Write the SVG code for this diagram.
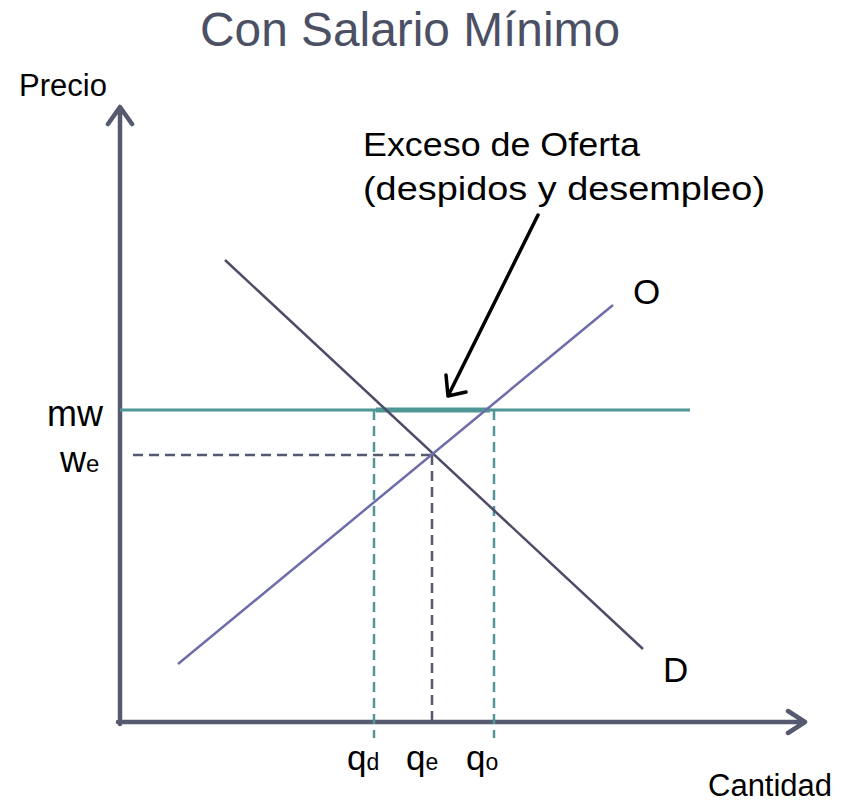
<svg xmlns="http://www.w3.org/2000/svg" width="850" height="802" viewBox="0 0 850 802">
<style>
text{font-family:"Liberation Sans",Arial,sans-serif;fill:#000}
.title{fill:#4B5064;font-size:48px}
.axis{stroke:#555A70;stroke-width:4.5;fill:none;stroke-linecap:round;stroke-linejoin:round}
.teal{stroke:#4F9696;fill:none}
.dash{stroke-dasharray:10 6;stroke-width:2.5;fill:none}
</style>
<rect width="850" height="802" fill="#fff"/>
<g id="title"><text class="title" x="200" y="46" textLength="420" lengthAdjust="spacingAndGlyphs">Con Salario Mínimo</text></g>
<g id="axes">
<path class="axis" d="M120,724 V107 M108,124 L120,107 L132,124"/>
<path class="axis" d="M118,722 H805 M788,711 L805,722 L788,733"/>
<text x="19" y="96" font-size="31">Precio</text>
<text x="708" y="796" font-size="31">Cantidad</text>
</g>
<g id="connectors">
<line class="dash" x1="133" y1="455" x2="432" y2="455" stroke="#555A70"/>
<line class="dash" x1="432" y1="455" x2="432" y2="722" stroke="#555A70"/>
<line class="dash teal" x1="374" y1="410" x2="374" y2="738"/>
<line class="dash teal" x1="494" y1="410" x2="494" y2="738"/>
<line class="teal" x1="120" y1="410" x2="690" y2="410" stroke-width="3"/>
<line class="teal" x1="376" y1="410" x2="490" y2="410" stroke-width="5"/>
<line id="demand" x1="225" y1="260" x2="643" y2="649" stroke="#4D4B68" stroke-width="2.5"/>
<line id="supply" x1="178" y1="664" x2="613" y2="305" stroke="#6E6CAA" stroke-width="2.5"/>
<path d="M538,215 L448,396 M446,375 L448,396 L466,392" stroke="#000" stroke-width="3.5" fill="none" stroke-linecap="round" stroke-linejoin="round"/>
</g>
<g id="labels">
<text x="363" y="156" font-size="34" textLength="277" lengthAdjust="spacingAndGlyphs">Exceso de Oferta</text>
<text x="363" y="200" font-size="34" textLength="402" lengthAdjust="spacingAndGlyphs">(despidos y desempleo)</text>
<text x="633" y="304" font-size="35">O</text>
<text x="663" y="682" font-size="35">D</text>
<text x="47" y="426" font-size="36">mw</text>
<text x="60" y="472" font-size="36">w<tspan font-size="24">e</tspan></text>
<text x="347" y="770" font-size="35">q<tspan font-size="23">d</tspan></text>
<text x="406" y="770" font-size="35">q<tspan font-size="23">e</tspan></text>
<text x="466" y="770" font-size="35">q<tspan font-size="23">o</tspan></text>
</g>
</svg>
